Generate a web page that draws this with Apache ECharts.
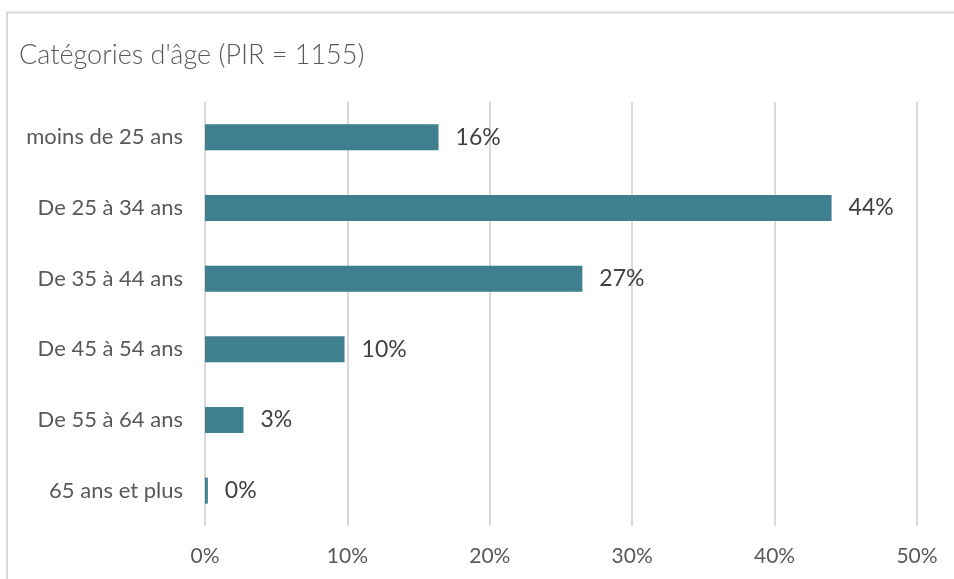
<!DOCTYPE html>
<html><head><meta charset="utf-8">
<script src="https://cdn.jsdelivr.net/npm/echarts@6/dist/echarts.min.js"></script>
<style>html,body{margin:0;padding:0;background:#fff}#c{width:954px;height:579px}</style>
</head><body><div id="c"></div>
<script>
const categories = ["moins de 25 ans","De 25 à 34 ans","De 35 à 44 ans","De 45 à 54 ans","De 55 à 64 ans","65 ans et plus"];
const values = [16.4, 44.0, 26.5, 9.8, 2.7, 0.2];
const labels = ["16%","44%","27%","10%","3%","0%"];
const titleText = "Catégories d'âge (PIR = 1155)";
const chart = echarts.init(document.getElementById('c'));
chart.setOption({
  animation:false,
  graphic:[{type:'polyline',shape:{points:[[7,579],[7,12.5],[954,12.5]]},style:{stroke:'#d9d9d9',lineWidth:2,fill:null}}],
  title:{text:titleText,left:14,top:37,textStyle:{fontFamily:'Lato',fontWeight:300,fontSize:27,color:'#595959'}},
  grid:{left:205,right:37,top:102,bottom:53},
  xAxis:{type:'value',min:0,max:50,interval:10,
    axisLabel:{formatter:'{value}%',fontFamily:'Lato',fontSize:21,color:'#595959',margin:20},
    splitLine:{lineStyle:{color:'#d9d9d9',width:2}},axisLine:{show:false},axisTick:{show:false}},
  yAxis:{type:'category',data:categories,inverse:true,
    axisLabel:{fontFamily:'Lato',fontSize:22,color:'#595959',margin:22},
    axisLine:{show:false},axisTick:{show:false}},
  series:[{type:'bar',data:values,barWidth:26,itemStyle:{color:'#3F7F8F'},
    label:{show:true,position:'right',distance:17,fontFamily:'Lato',fontSize:23,color:'#404040',
      formatter:p=>labels[p.dataIndex]}}]
});
</script></body></html>
